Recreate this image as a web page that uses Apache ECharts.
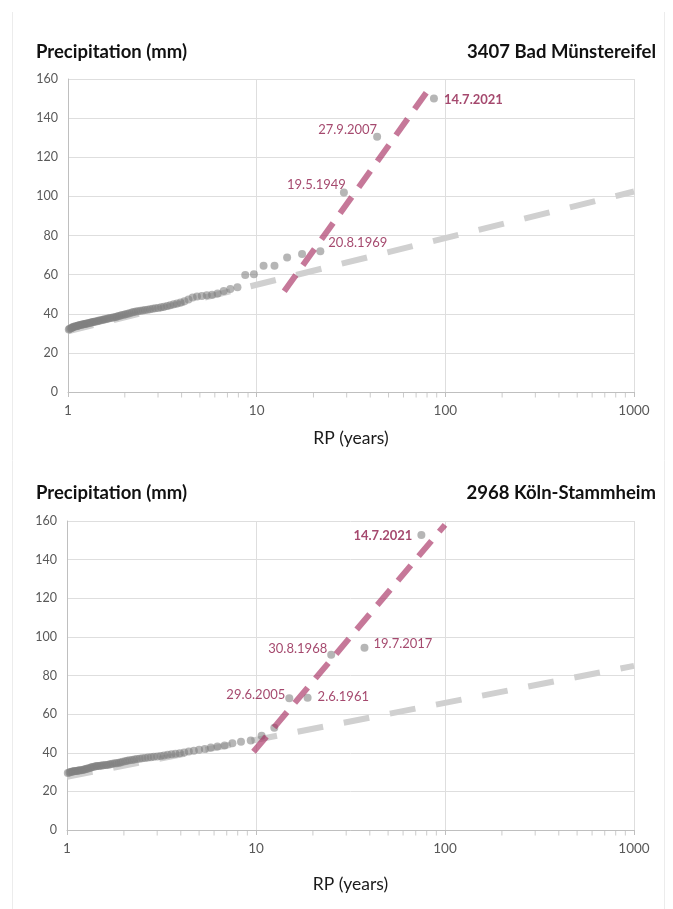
<!DOCTYPE html>
<html>
<head>
<meta charset="utf-8">
<script src="https://cdn.jsdelivr.net/npm/echarts@6/dist/echarts.min.js"></script>
<style>
    html, body {margin:0;padding:0;background:#ffffff;}
    #chart {width:673px;height:909px;}
</style>
</head>
<body>
<div id="chart"></div>
<script>
    // station 3407 Bad Münstereifel, annual maxima sorted by rank (largest first)
    var rpMun = [
        87, 43.5, 29, 21.75, 17.4, 14.5, 12.43, 10.88, 9.67, 8.7,
        7.91, 7.25, 6.69, 6.21, 5.8, 5.44, 5.12, 4.83, 4.58, 4.35,
        4.14, 3.95, 3.78, 3.63, 3.48, 3.35, 3.22, 3.11, 3.0, 2.9,
        2.81, 2.72, 2.64, 2.56, 2.49, 2.42, 2.35, 2.29, 2.23, 2.18,
        2.12, 2.07, 2.02, 1.98, 1.93, 1.89, 1.85, 1.81, 1.78, 1.74,
        1.71, 1.67, 1.64, 1.61, 1.58, 1.55, 1.53, 1.5, 1.47, 1.45,
        1.43, 1.4, 1.38, 1.36, 1.34, 1.32, 1.3, 1.28, 1.26, 1.24,
        1.23, 1.21, 1.19, 1.18, 1.16, 1.14, 1.13, 1.12, 1.1, 1.09,
        1.07, 1.06, 1.05, 1.04, 1.02, 1.01
    ];
    var mmMun = [
        150, 130.5, 102, 72, 70.5, 68.7, 64.6, 64.6, 60.2, 59.8,
        53.6, 52.6, 51.6, 50.3, 49.7, 49.4, 49.1, 48.8, 48.3, 47.3,
        46.4, 45.8, 45.3, 44.8, 44.3, 43.9, 43.6, 43.3, 43.0, 42.8,
        42.5, 42.3, 42.1, 41.9, 41.7, 41.5, 41.3, 41.1, 40.9, 40.6,
        40.3, 40.0, 39.8, 39.5, 39.3, 39.0, 38.8, 38.5, 38.3, 38.1,
        37.9, 37.8, 37.6, 37.4, 37.2, 37.0, 36.9, 36.7, 36.5, 36.4,
        36.2, 36.1, 35.9, 35.8, 35.6, 35.5, 35.3, 35.2, 35.0, 34.9,
        34.8, 34.6, 34.5, 34.4, 34.2, 34.1, 33.9, 33.8, 33.6, 33.5,
        33.3, 33.1, 32.9, 32.6, 32.3, 32.0
    ];
    var eventsMun = ['14.7.2021', '27.9.2007', '19.5.1949', '20.8.1969'];
    var fitMunRp = [1, 1000];
    var fitMunMm = [31, 102.5];
    var trendMunRp = [14, 80];
    var trendMunMm = [51.5, 153.5];

    // station 2968 Köln-Stammheim
    var rpKoln = [
        75, 37.5, 25, 18.75, 15, 12.5, 10.71, 9.38, 8.33, 7.5,
        6.82, 6.25, 5.77, 5.36, 5.0, 4.69, 4.41, 4.17, 3.95, 3.75,
        3.57, 3.41, 3.26, 3.13, 3.0, 2.88, 2.78, 2.68, 2.59, 2.5,
        2.42, 2.34, 2.27, 2.21, 2.14, 2.08, 2.03, 1.97, 1.92, 1.88,
        1.83, 1.79, 1.74, 1.7, 1.67, 1.63, 1.6, 1.56, 1.53, 1.5,
        1.47, 1.44, 1.42, 1.39, 1.36, 1.34, 1.32, 1.29, 1.27, 1.25,
        1.23, 1.21, 1.19, 1.17, 1.15, 1.14, 1.12, 1.1, 1.09, 1.07,
        1.06, 1.04, 1.03, 1.01
    ];
    var mmKoln = [
        152.8, 94.4, 90.8, 68.5, 68.2, 53.0, 48.8, 46.4, 45.7, 44.9,
        43.8, 43.3, 42.7, 41.9, 41.5, 41.1, 40.6, 40.1, 39.8, 39.5,
        39.2, 38.9, 38.6, 38.3, 38.1, 37.9, 37.7, 37.5, 37.3, 37.1,
        36.9, 36.7, 36.5, 36.3, 36.1, 35.9, 35.6, 35.3, 35.0, 34.8,
        34.6, 34.5, 34.3, 34.1, 33.9, 33.7, 33.6, 33.5, 33.4, 33.3,
        33.2, 33.1, 33.0, 32.8, 32.6, 32.3, 32.1, 31.9, 31.7, 31.5,
        31.3, 31.1, 31.0, 30.9, 30.8, 30.7, 30.6, 30.5, 30.4, 30.3,
        30.2, 30.0, 29.8, 29.5
    ];
    var eventsKoln = ['14.7.2021', '19.7.2017', '30.8.1968', '2.6.1961', '29.6.2005'];
    var fitKolnRp = [1, 1000];
    var fitKolnMm = [27.5, 85];
    var trendKolnRp = [9.7, 100];
    var trendKolnMm = [40.5, 158];

    var minorTicks = [2, 3, 4, 5, 6, 7, 8, 9, 20, 30, 40, 50, 60, 70, 80, 90, 200, 300, 400, 500, 600, 700, 800, 900];

    var FONT = 'Lato, "Open Sans", sans-serif';
    var MAROON = '#8e1b4a';

    // label placement for each annotated event (by rank)
    var labelMun = [
        {position: 'right', distance: 6, offset: [0, 1], fontWeight: 'bold'},
        {position: 'left', distance: 0, offset: [4, -7]},
        {position: 'left', distance: 0, offset: [6, -8]},
        {position: 'right', distance: 4, offset: [0, -8]}
    ];
    var labelKoln = [
        {position: 'left', distance: 5, offset: [0, 1], fontWeight: 'bold'},
        {position: 'right', distance: 5, offset: [0, -4]},
        {position: 'left', distance: 0, offset: [0, -6]},
        {position: 'right', distance: 6, offset: [0, -1]},
        {position: 'left', distance: 0, offset: [0, -3]}
    ];

    function pairs(xs, ys) {
        return xs.map(function (x, i) { return [x, ys[i]]; });
    }

    function pointData(rp, mm, events, layout) {
        return rp.map(function (x, i) {
            var item = {value: [x, mm[i]]};
            if (i < events.length) {
                var l = layout[i];
                item.label = {
                    show: true,
                    formatter: events[i],
                    position: l.position,
                    distance: l.distance,
                    offset: l.offset,
                    color: MAROON,
                    fontSize: 13,
                    fontFamily: FONT,
                    fontWeight: l.fontWeight || 'normal'
                };
            }
            return item;
        });
    }

    var grids = [
        {left: 68, right: 39, top: 79, height: 313},
        {left: 67, right: 39, top: 521, height: 309}
    ];

    function xAxisFor(idx, gap) {
        return {
            type: 'log', logBase: 10, min: 1, max: 1000, gridIndex: idx,
            name: 'RP (years)', nameLocation: 'middle', nameGap: gap,
            nameTextStyle: {fontSize: 17.5, color: '#1a1a1a', fontFamily: FONT},
            axisLine: {show: true, lineStyle: {color: '#bfbfbf', width: 1}},
            axisTick: {show: true, length: 5, lineStyle: {color: '#bfbfbf'}},
            axisLabel: {
                color: '#595959', fontSize: 13.5, fontFamily: FONT, margin: 12,
                formatter: function (v) { return String(Math.round(v)); }
            },
            splitLine: {show: true, lineStyle: {color: '#dedede', width: 1}}
        };
    }

    function yAxisFor(idx) {
        return {
            type: 'value', min: 0, max: 160, interval: 20, gridIndex: idx,
            axisLine: {show: true, lineStyle: {color: '#bfbfbf'}},
            axisTick: {show: false},
            axisLabel: {color: '#595959', fontSize: 12.5, fontFamily: FONT, margin: 10},
            splitLine: {show: true, lineStyle: {color: '#dedede', width: 1}}
        };
    }

    function seriesFor(idx, rp, mm, events, layout, fitRp, fitMm, trRp, trMm) {
        return [
            {
                type: 'line', xAxisIndex: idx, yAxisIndex: idx, silent: true,
                data: pairs(fitRp, fitMm), showSymbol: false, z: 2,
                lineStyle: {color: '#d0d0d0', width: 6, type: [26, 21], cap: 'butt'}
            },
            {
                type: 'scatter', xAxisIndex: idx, yAxisIndex: idx, silent: true,
                data: pointData(rp, mm, events, layout), symbolSize: 8, z: 3,
                itemStyle: {color: 'rgba(128,128,128,0.72)'}
            },
            {
                type: 'line', xAxisIndex: idx, yAxisIndex: idx, silent: true,
                data: pairs(trRp, trMm), showSymbol: false, z: 4,
                lineStyle: {color: 'rgba(168,48,98,0.65)', width: 6, type: [20, 12], cap: 'butt'}
            },
            {
                type: 'scatter', xAxisIndex: idx, yAxisIndex: idx, silent: true,
                data: minorTicks.map(function (t) { return [t, 0]; }),
                symbol: 'rect', symbolSize: [1, 5], symbolOffset: [0, 3], clip: false, z: 1,
                itemStyle: {color: '#bfbfbf'}
            }
        ];
    }

    var titleStyle = {fontSize: 18.5, fontWeight: 'bold', color: '#111', fontFamily: FONT};

    var chart = echarts.init(document.getElementById('chart'));
    var option = {
        backgroundColor: '#ffffff',
        animation: false,
        title: [
            {text: 'Precipitation (mm)', left: 36, top: 43, padding: 0, textStyle: titleStyle},
            {text: '3407 Bad Münstereifel', right: 17, top: 43, padding: 0, textStyle: titleStyle},
            {text: 'Precipitation (mm)', left: 36, top: 484, padding: 0, textStyle: titleStyle},
            {text: '2968 Köln-Stammheim', right: 17, top: 484, padding: 0, textStyle: titleStyle}
        ],
        grid: grids,
        xAxis: [xAxisFor(0, 37), xAxisFor(1, 45)],
        yAxis: [yAxisFor(0), yAxisFor(1)],
        series: seriesFor(0, rpMun, mmMun, eventsMun, labelMun, fitMunRp, fitMunMm, trendMunRp, trendMunMm)
            .concat(seriesFor(1, rpKoln, mmKoln, eventsKoln, labelKoln, fitKolnRp, fitKolnMm, trendKolnRp, trendKolnMm)),
        graphic: [
            {type: 'line', shape: {x1: 12.5, y1: 12, x2: 12.5, y2: 909}, style: {stroke: '#ececec', lineWidth: 1}, silent: true},
            {type: 'line', shape: {x1: 664.5, y1: 12, x2: 664.5, y2: 909}, style: {stroke: '#ececec', lineWidth: 1}, silent: true}
        ]
    };
    chart.setOption(option);
</script>
</body>
</html>
